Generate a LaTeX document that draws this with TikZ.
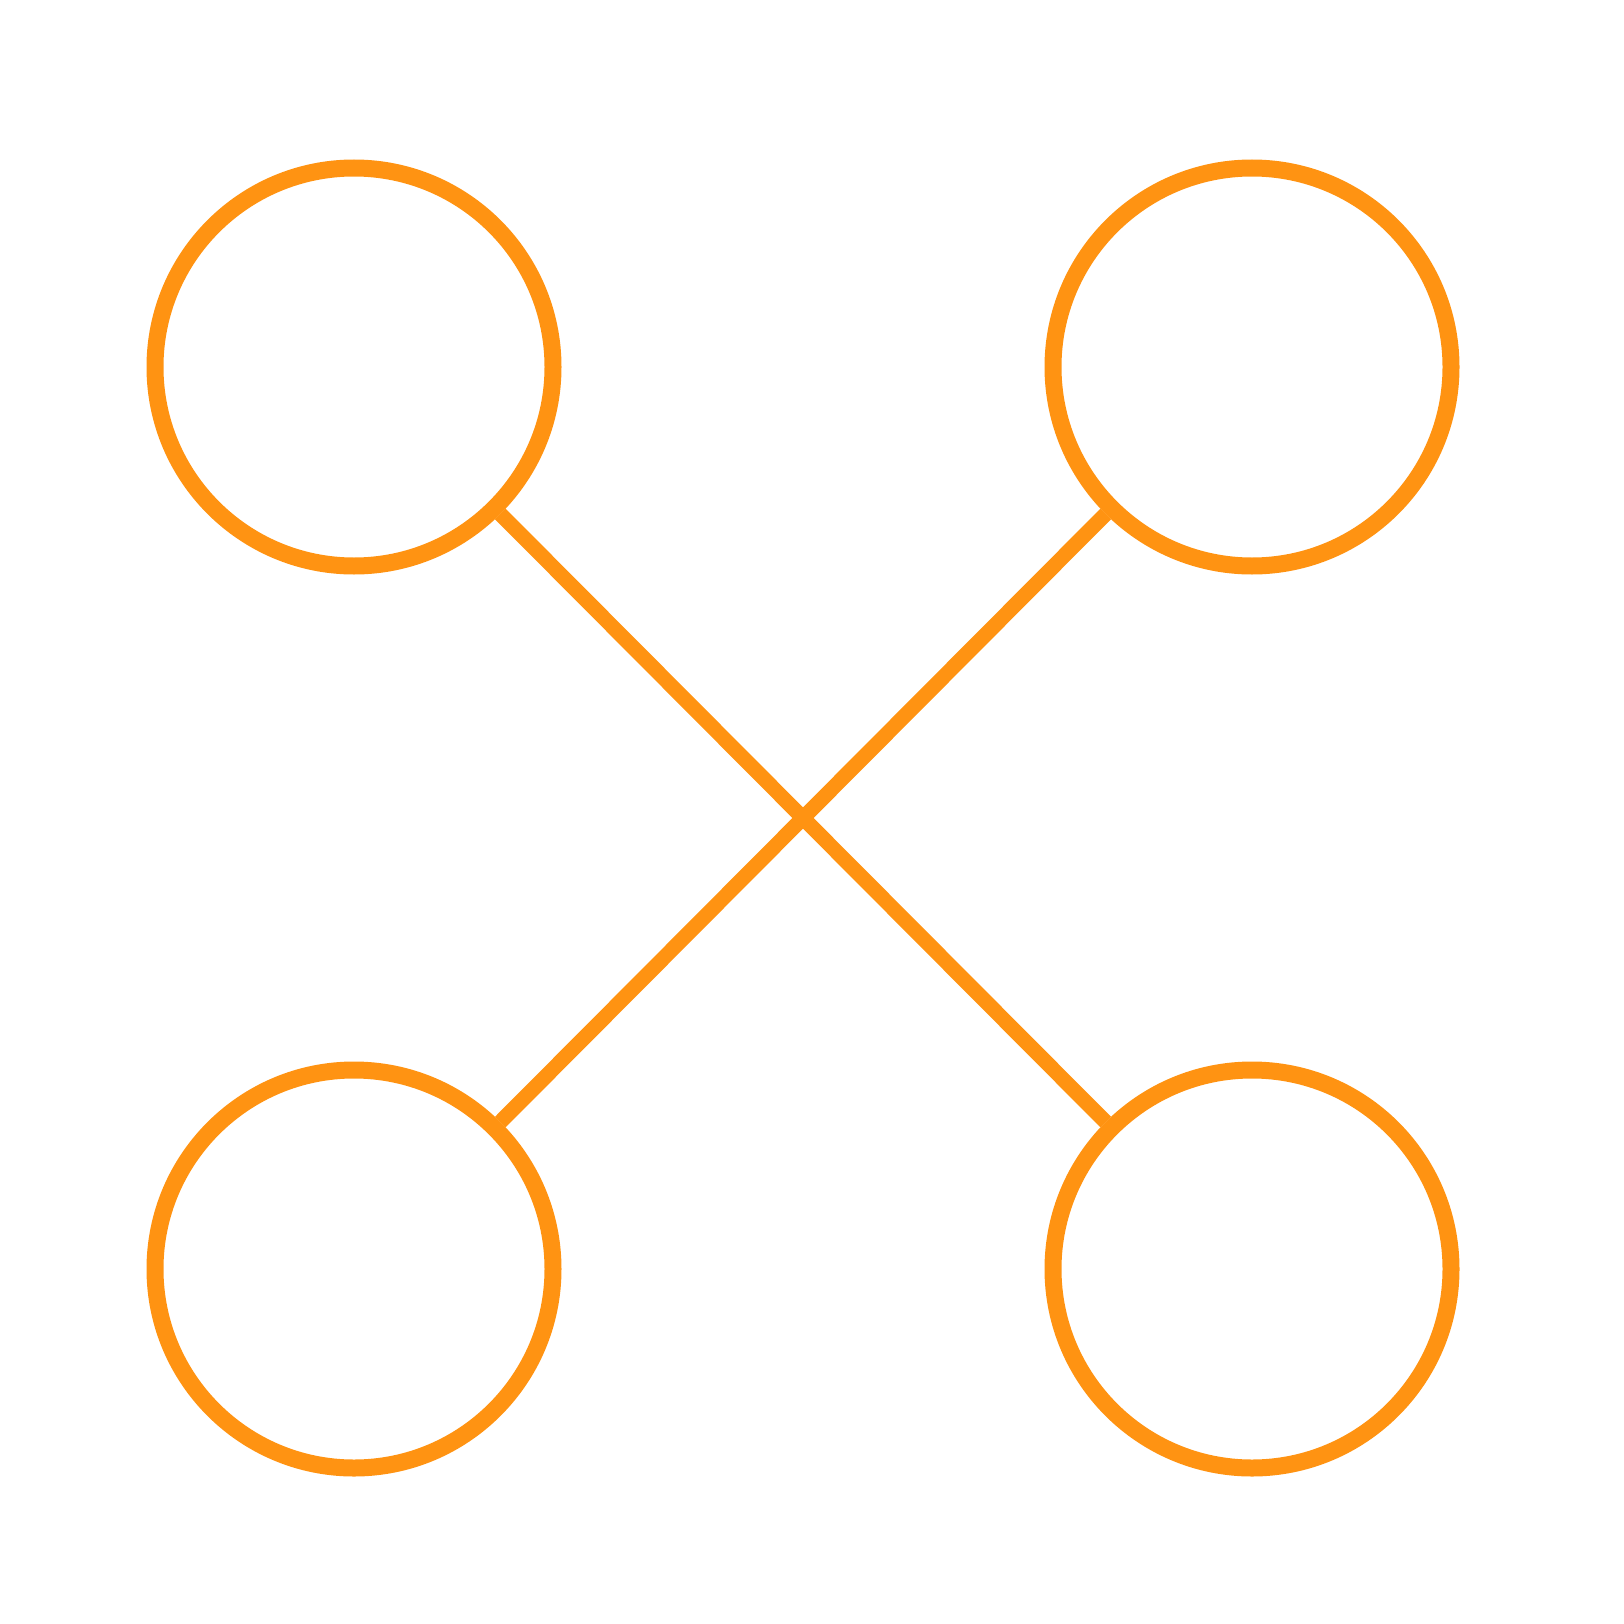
\documentclass[tikz,border=0pt]{standalone}
\definecolor{orng}{HTML}{FF9312}
\tikzset{
  ring/.style={circle, draw=orng, line width=17pt, inner sep=0pt, minimum size=398pt, fill=none},
  link/.style={draw=orng, line width=15pt}
}
\begin{document}
\begin{tikzpicture}[x=1pt,y=-1pt]
\useasboundingbox (0,0) rectangle (1624,1624);
\node[ring] (tl) at (354,367) {};
\node[ring] (tr) at (1252,367) {};
\node[ring] (bl) at (354,1269) {};
\node[ring] (br) at (1252,1269) {};
\draw[link] (tl) -- (br);
\draw[link] (tr) -- (bl);
\end{tikzpicture}
\end{document}
